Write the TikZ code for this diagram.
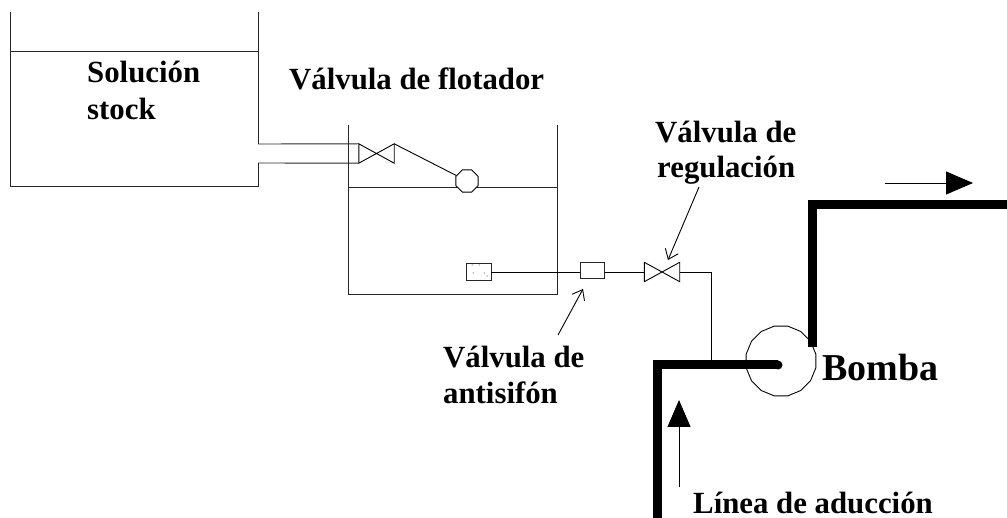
\documentclass[tikz,border=0pt]{standalone}
\usepackage{fontspec}
\setmainfont{Liberation Serif}
\usetikzlibrary{shapes}
\usetikzlibrary{positioning, arrows.meta}

\tikzset{
    wall/.style={line width=0.9pt, draw=black!85},
    thin pipe/.style={line width=0.9pt},
    main pipe/.style={line width=9pt},
    valve/.style={minimum width=35pt, minimum height=19pt, inner sep=0pt},
    label/.style={font=\bfseries\fontsize{30.8}{36.5}\selectfont, inner sep=0pt, align=left},
    pointer/.style={line width=0.9pt, -{Straight Barb[length=9pt, width=14pt]}},
    flow/.style={line width=0.9pt, -{Triangle[length=27pt, width=23pt]}}
}

\begin{document}
\begin{tikzpicture}[x=1pt, y=-1pt]
    \useasboundingbox (0,0) rectangle (1007,518);

    % Stock tank
    \coordinate (sa) at (10.5,12);
    \coordinate (sb) at (10.5,186);
    \coordinate (sc) at (258,186);
    \coordinate (sd) at (258,163);
    \coordinate (se) at (258,144);
    \coordinate (sf) at (258,12);
    \coordinate (sl) at (10.5,51);
    \coordinate (sr) at (258,51);
    \draw[wall] (sa) -- (sb) -- (sc) -- (sd);
    \draw[wall] (se) -- (sf);
    \draw[wall] (sl) -- (sr);

    % Float tank
    \coordinate (ta) at (348,125);
    \coordinate (tb) at (348,294);
    \coordinate (tc) at (557,294);
    \coordinate (td) at (557,125);
    \coordinate (tl) at (348,187);
    \coordinate (tr) at (557,187);
    \draw[wall] (ta) -- (tb) -- (tc) -- (td);
    \draw[wall] (tl) -- (tr);

    % Valves
    \node[valve] (vf) at (376.5,153.5) {};
    \node[valve] (vr) at (662,272) {};
    \draw[thin pipe] (vf.north west) -- (vf.south east) -- (vf.north east) -- (vf.south west) -- cycle;
    \draw[thin pipe] (vr.north west) -- (vr.south east) -- (vr.north east) -- (vr.south west) -- cycle;

    % Feed pipe and float
    \draw[wall] (sd) -- (vf.south west);
    \draw[wall] (se) -- (vf.north west);
    \node[regular polygon, regular polygon sides=8, draw, line width=0.9pt, fill=white, minimum size=24pt, inner sep=0pt] (float) at (467,181) {};
    \draw[thin pipe] (vf.north east) -- (float);

    % Dosing line
    \node[draw, wall, minimum width=25pt, minimum height=17pt, inner sep=0pt] (dose) at (478.5,272) {};
    \node[draw, wall, minimum width=24.5pt, minimum height=16pt, inner sep=0pt] (anti) at (592.5,270) {};
    \fill (472,265) circle (0.5pt) (479,265) circle (0.5pt) (473,273) circle (0.5pt) (484,273) circle (0.5pt) (487,276) circle (0.5pt);
    \draw[thin pipe] (dose) -- (anti.west |- dose);
    \draw[thin pipe] (anti.east |- dose) -- (vr.west);

    % Main line
    \coordinate (ma) at (657,518);
    \coordinate (mb) at (657,365);
    \coordinate (mc) at (778,365);
    \coordinate (oa) at (812,347);
    \coordinate (ob) at (812,205);
    \coordinate (oc) at (1007,205);
    \draw[main pipe] (ma) -- (mb) -- (mc);
    \fill (mc) circle (4.5pt);
    \draw[main pipe] (oa) -- (ob) -- (oc);
    \node[regular polygon, regular polygon sides=16, draw, line width=0.9pt, minimum size=71pt, inner sep=0pt] (pump) at (781,361) {};
    \coordinate (mt) at (711,361);
    \draw[thin pipe] (vr.east) -| (mt);

    % Labels
    \node[label, anchor=base west] (stocka) at (87,83) {Solución};
    \node[label, anchor=base west] (stockb) at (87,119.5) {stock};
    \node[label, anchor=base west] (vflot) at (289,90) {Válvula de flotador};
    \node[label, anchor=base west] (vrega) at (655,143) {Válvula de};
    \node[label, anchor=base west] (vregb) at (657,178) {regulación};
    \node[label, anchor=base west] (vantia) at (443,368) {Válvula de};
    \node[label, anchor=base west] (vantib) at (443,404) {antisifón};
    \node[label, anchor=base west] (linea) at (693,513) {Línea de aducción};
    \node[label, anchor=base west, font=\bfseries\fontsize{38}{40}\selectfont] (bomba) at (822,381) {Bomba};

    % Arrows
    \coordinate (pa) at (558,335);
    \coordinate (pb) at (583,289);
    \coordinate (pc) at (699,187);
    \coordinate (pd) at (668,260);
    \coordinate (fa) at (885,183);
    \coordinate (fb) at (973,183);
    \coordinate (fc) at (679,487);
    \coordinate (fd) at (679,400);
    \draw[pointer] (pa) -- (pb);
    \draw[pointer] (pc) -- (pd);
    \draw[flow] (fa) -- (fb);
    \draw[flow] (fc) -- (fd);
\end{tikzpicture}
\end{document}
